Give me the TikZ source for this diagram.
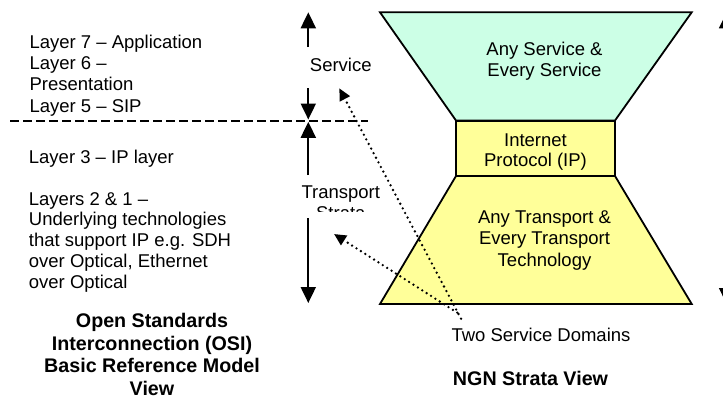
\documentclass[tikz,border=0pt]{standalone}
\usepackage{fontspec}
\setmainfont{Liberation Sans}
\usetikzlibrary{arrows.meta}
\definecolor{servicefill}{RGB}{204,255,230}
\definecolor{transportfill}{RGB}{255,255,153}
\begin{document}
\begin{tikzpicture}[x=1pt,y=-1pt,
  txt/.style={inner sep=0pt, font=\fontsize{18.5}{#1}\selectfont, execute at begin node=\strut},
  txt/.default=21,
  title/.style={inner sep=0pt, font=\fontsize{19.7}{22.6}\selectfont\bfseries, execute at begin node=\strut},
  bigarrow/.style={line width=2pt, -{Triangle[length=16pt,width=15pt]}},
  pointer/.style={line width=2.6pt, line cap=round, dash pattern=on 0pt off 5.2pt,
    -{Triangle[length=12pt,width=11pt]}},
  outlined/.style={draw=black, line width=1.8pt, line join=miter}
]
\clip (0,0) rectangle (723,399);

% ---------- OSI side: layer descriptions ----------
\node[txt=21.2, align=left, anchor=north west] (upper) at (29.3,34.8)
  {Layer 7 – Application\\Layer 6 –\\Presentation\\Layer 5 – SIP};
\node[txt, anchor=north west] (ip3) at (28.7,148.3) {Layer 3 – IP layer};
\node[txt=20.8, align=left, anchor=north west] (lower) at (28.7,192)
  {Layers 2 \& 1 –\\Underlying technologies\\that support IP e.g. SDH\\over Optical, Ethernet\\over Optical};
\node[title, align=center, anchor=north] (osititle) at (152,313.2)
  {Open Standards\\Interconnection (OSI)\\Basic Reference Model\\View};

% boundary between service and transport layers
\coordinate (dashL) at (10,120.7);
\coordinate (dashR) at (368,120.7);
\draw[line width=2pt, dash pattern=on 8.7pt off 4.3pt] (dashL) -- (dashR);

% ---------- strata labels with their extent arrows ----------
\node[txt, anchor=base] (service) at (340.8,71.7) {Service};
\begin{scope}
  \clip (280,180) rectangle (400,211.8);
  \node[txt, align=center, anchor=north] (transport) at (340.8,186) {Transport\\Strata};
\end{scope}

\coordinate (svcTop) at (308.3,12.3);
\coordinate (svcUp) at (308.3,47);
\coordinate (svcDown) at (308.3,88);
\coordinate (svcBot) at (308.3,119.5);
\coordinate (trTop) at (308.3,121.8);
\coordinate (trUp) at (308.3,175);
\coordinate (trDown) at (308.3,218);
\coordinate (trBot) at (308.3,303);
\draw[bigarrow] (svcUp) -- (svcTop);
\draw[bigarrow] (svcDown) -- (svcBot);
\draw[bigarrow] (trUp) -- (trTop);
\draw[bigarrow] (trDown) -- (trBot);

% ---------- NGN strata hourglass ----------
\draw[outlined, fill=servicefill] (380,12.3) -- (691.7,12.3) -- (615,120.5) -- (456,120.5) -- cycle;
\draw[outlined, fill=transportfill] (456,176) -- (615,176) -- (691.7,304) -- (380,304) -- cycle;
\node[outlined, fill=transportfill, minimum width=159pt, minimum height=55pt, inner sep=0pt]
  (ip) at (535.5,148.5) {};
\begin{scope}
  \clip (456,121) rectangle (615,170.3);
  \node[txt=20, align=center, anchor=north] (iplabel) at (535.5,133.5) {Internet\\Protocol (IP)};
\end{scope}
\node[txt=21.6, align=center, anchor=north] (anysvc) at (544.5,41.6)
  {Any Service \&\\Every Service};
\node[txt=21.5, align=center, anchor=north] (anytr) at (544.5,210)
  {Any Transport \&\\Every Transport\\Technology};

% overall extent arrow at the right margin
\coordinate (rTop) at (726.6,12.3);
\coordinate (rBot) at (726.6,304);
\draw[line width=2pt, {Triangle[length=16pt,width=15pt]}-{Triangle[length=16pt,width=15pt]}] (rTop) -- (rBot);

% ---------- captions and pointers ----------
\node[txt, anchor=base] (domains) at (541,341.7) {Two Service Domains};
\node[title, anchor=base] (ngntitle) at (530.5,385.7) {NGN Strata View};

\coordinate (p1) at (461,318.7);
\coordinate (p1tip) at (339.3,88.3);
\coordinate (p2) at (457.3,312.7);
\coordinate (p2tip) at (334,234);
\draw[pointer] (p1) -- (p1tip);
\draw[pointer] (p2) -- (p2tip);
\end{tikzpicture}
\end{document}
